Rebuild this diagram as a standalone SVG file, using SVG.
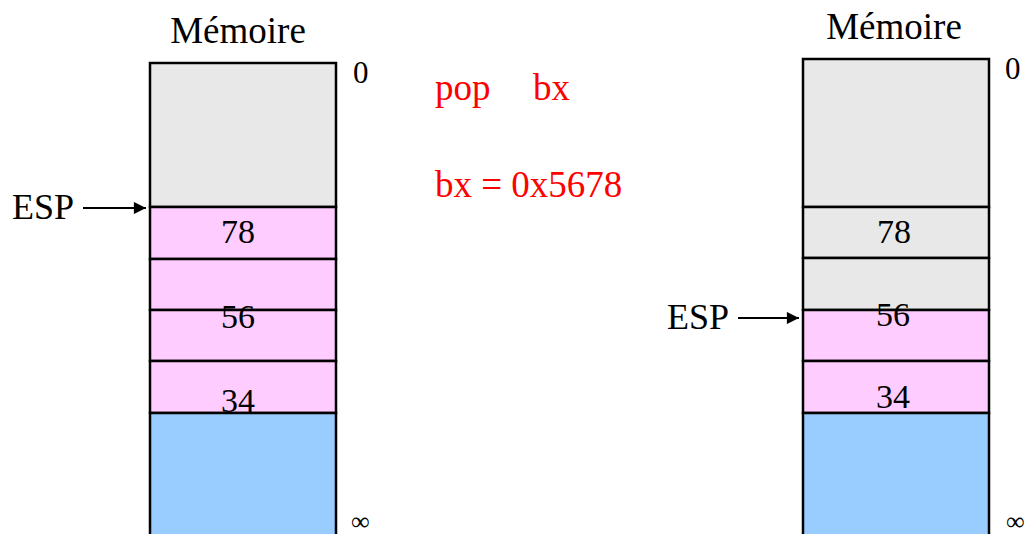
<svg xmlns="http://www.w3.org/2000/svg" width="1026" height="534" viewBox="0 0 1026 534">
<style>
text{font-family:"Liberation Serif","Times New Roman",serif;fill:#000}
.cell{stroke:#000;stroke-width:2.5}
.g{fill:#E8E8E8}.p{fill:#FFCCFF}.b{fill:#99CCFF}
.t{font-size:34px;text-anchor:middle}
.h{font-size:37px;text-anchor:middle}
.e{font-size:36px}
.s{font-size:31px}
.i{font-size:26px}
.r{font-size:37px;fill:#FF0000}
.c{stroke:#000;stroke-width:2.2;fill:none}
</style>
<defs>
<marker id="ah" viewBox="0 0 10 10" refX="10" refY="5" markerWidth="7" markerHeight="5.5" orient="auto" markerUnits="strokeWidth">
<path d="M0,0L10,5L0,10z" fill="#000"/>
</marker>
</defs>
<g id="left-stack">
<text class="h" x="238" y="43">Mémoire</text>
<rect class="cell g" x="150" y="63" width="186" height="144"/>
<rect class="cell p" x="150" y="207" width="186" height="52"/>
<rect class="cell p" x="150" y="259" width="186" height="51"/>
<rect class="cell p" x="150" y="310" width="186" height="51"/>
<rect class="cell p" x="150" y="361" width="186" height="52"/>
<rect class="cell b" x="150" y="413" width="186" height="130"/>
<text class="t" x="238" y="243">78</text>
<text class="t" x="238" y="328">56</text>
<text class="t" x="238" y="412">34</text>
<text class="s" x="353" y="83">0</text>
<text class="i" x="351" y="530">∞</text>
<text class="e" x="12" y="219">ESP</text>
</g>
<g id="instruction">
<text class="r" x="435" y="100">pop</text>
<text class="r" x="533" y="100">bx</text>
<text class="r" x="435" y="197">bx = 0x5678</text>
</g>
<g id="right-stack">
<text class="h" x="894" y="39">Mémoire</text>
<rect class="cell g" x="803" y="59" width="186" height="148"/>
<rect class="cell g" x="803" y="207" width="186" height="51"/>
<rect class="cell g" x="803" y="258" width="186" height="52"/>
<rect class="cell p" x="803" y="310" width="186" height="51"/>
<rect class="cell p" x="803" y="361" width="186" height="52"/>
<rect class="cell b" x="803" y="413" width="186" height="130"/>
<text class="t" x="894" y="243">78</text>
<text class="t" x="893" y="326">56</text>
<text class="t" x="893" y="408">34</text>
<text class="s" x="1005" y="79">0</text>
<text class="i" x="1006" y="530">∞</text>
<text class="e" x="667" y="329">ESP</text>
</g>
<g id="connectors">
<line class="c" x1="83" y1="208" x2="146" y2="208" marker-end="url(#ah)"/>
<line class="c" x1="738" y1="318" x2="799" y2="318" marker-end="url(#ah)"/>
</g>
</svg>
